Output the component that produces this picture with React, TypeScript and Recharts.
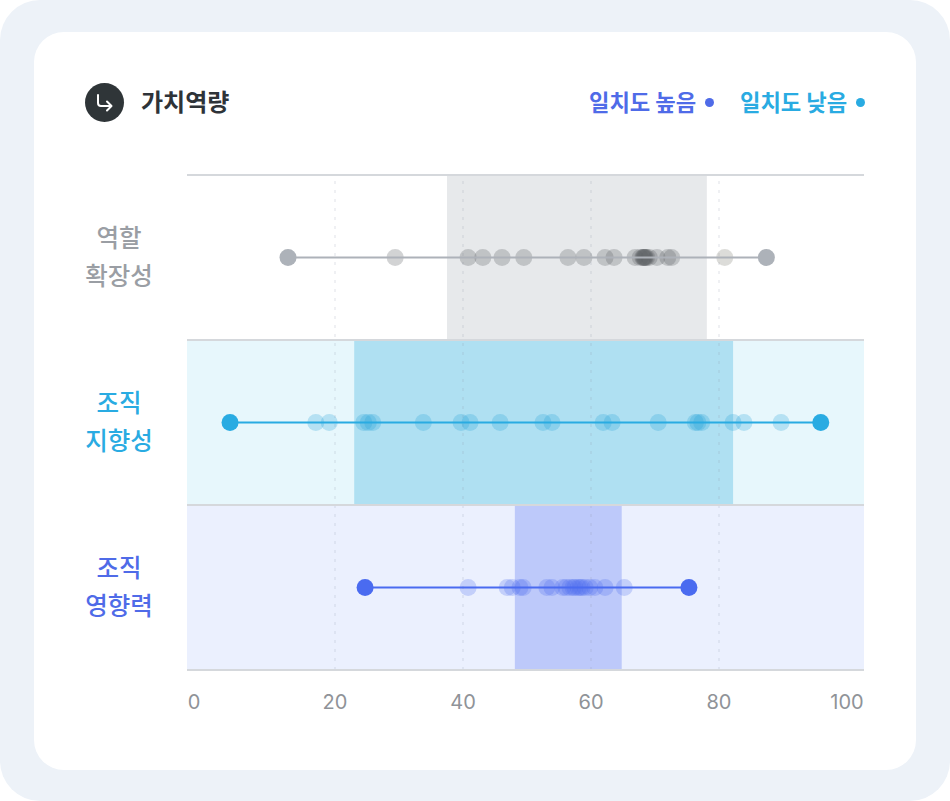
import React from 'react';
import { ScatterChart, Scatter, XAxis, YAxis, ReferenceArea, ReferenceLine } from 'recharts';

const SANS = '"Noto Sans CJK KR", Inter, sans-serif';

const GREY = '#adb2b9';
const CYAN = '#29abe2';
const BLUE = '#4a6bf0';

const xTicks = [0, 20, 40, 60, 80, 100];
const gridTicks = [20, 40, 60, 80];
const rowEdges = [0, 1, 2, 3];
const xDomain = [-3.125, 102.656];

const rowLabels = [
  ['역할', '확장성'],
  ['조직', '지향성'],
  ['조직', '영향력'],
];
const labelColors = ['#9a9ea4', CYAN, '#4f6be8'];

// [low, high] of the shaded range in each row
const rangeRole = [37.5, 78.1];
const rangeOrg = [23, 82.2];
const rangeImpact = [48.1, 64.8];

// [min, max] end points of each row
const endsRole = [12.66, 87.4];
const endsOrg = [3.6, 95.9];
const endsImpact = [24.7, 75.3];

const valuesRole = [29.4, 40.8, 43.1, 46.1, 49.5, 56.4, 58.9, 62.2, 63.6, 66.9, 67.7, 68.1, 68.2, 68.3, 68.4, 68.5, 68.7, 69.1, 70.3, 72, 72.6];
const valuesRoleHigh = [80.9];
const valuesOrg = [17.0, 19.1, 24.5, 25.2, 25.9, 33.8, 39.7, 41.1, 45.8, 52.5, 53.9, 61.9, 63.3, 70.5, 76.3, 76.7, 77.3, 82.2, 83.9, 89.7];
const valuesImpact = [40.8, 46.9, 47.7, 48.9, 49.4, 53.1, 53.9, 55.6, 56.1, 56.7, 57.2, 57.5, 58, 58.3, 58.6, 59.1, 59.8, 60.6, 62.2, 65.2];

const toPoints = (values: number[], row: number) => values.map(x => ({ x, y: row + 0.5 }));

const softDot = (fill: string, opacity: number) => (props: any) => (
  <circle cx={props.cx} cy={props.cy} r={8.5} fill={fill} fillOpacity={opacity} />
);

const endDot = (fill: string) => (props: any) => (
  <circle cx={props.cx} cy={props.cy} r={8.5} fill={fill} />
);

const XTick = (props: any) => {
  const { x, payload } = props;
  // the "0" label sits left of its real position in the reference
  const shift = payload.value === 0 ? -13 : 0;
  return (
    <text x={x + shift} y={702} textAnchor="middle" dominantBaseline="central" fontFamily="Inter, sans-serif" fontSize={20} fill="#8f9398">
      {payload.value}
    </text>
  );
};

const YTick = (props: any) => {
  const { y, payload } = props;
  const row = Math.floor(payload.value);
  return (
    <g>
      {rowLabels[row].map((line, i) => (
        <text key={i} x={119} y={y + (i === 0 ? -21 : 17)} textAnchor="middle" dominantBaseline="central" fontFamily={SANS} fontSize={24.5} fontWeight={500} fill={labelColors[row]}>
          {line}
        </text>
      ))}
    </g>
  );
};

const App = () => {
  return (
    <div style={{ position: 'absolute', left: 0, top: 0, width: 950, height: 801, background: '#ffffff', fontFamily: SANS }}>
      <div style={{ position: 'absolute', inset: 0, background: '#edf2f8', borderRadius: 40 }} />
      <div style={{ position: 'absolute', left: 34, top: 32, width: 882, height: 738, background: '#ffffff', borderRadius: 30 }} />

      {/* Header */}
      <svg width={40} height={40} style={{ position: 'absolute', left: 85, top: 83 }}>
        <circle cx={19.5} cy={19.5} r={19.5} fill="#2f3538" />
        <path d="M13 12 V20 Q13 23 16 23 H26 M22 18.5 L26.5 23 L22 27.5" fill="none" stroke="#ffffff" strokeWidth={2} strokeLinecap="round" strokeLinejoin="round" />
      </svg>
      <div style={{ position: 'absolute', left: 141, top: 84, fontSize: 24, fontWeight: 700, color: '#2e3338', lineHeight: '34px', whiteSpace: 'nowrap' }}>
        가치역량
      </div>
      <div style={{ position: 'absolute', left: 589, top: 84, fontSize: 22.2, fontWeight: 700, color: '#4f6be8', lineHeight: '34px', whiteSpace: 'nowrap' }}>
        일치도 높음
      </div>
      <div style={{ position: 'absolute', left: 705, top: 98, width: 9, height: 9, borderRadius: '50%', background: '#4f6be8' }} />
      <div style={{ position: 'absolute', left: 740, top: 84, fontSize: 22.2, fontWeight: 700, color: CYAN, lineHeight: '34px', whiteSpace: 'nowrap' }}>
        일치도 낮음
      </div>
      <div style={{ position: 'absolute', left: 856, top: 98, width: 9, height: 9, borderRadius: '50%', background: CYAN }} />

      <div style={{ position: 'absolute', left: 0, top: 0 }}>
        <ScatterChart width={950} height={801} margin={{ top: 175, right: 86, bottom: 101, left: 87 }}>
          <XAxis
            type="number"
            dataKey="x"
            domain={xDomain}
            ticks={xTicks}
            interval={0}
            axisLine={false}
            tickLine={false}
            height={30}
            tick={<XTick />}
          />
          <YAxis
            type="number"
            dataKey="y"
            domain={[0, 3]}
            reversed={true}
            ticks={[0.5, 1.5, 2.5]}
            interval={0}
            axisLine={false}
            tickLine={false}
            width={100}
            tick={<YTick />}
          />

          {/* Row backgrounds */}
          <ReferenceArea x1={xDomain[0]} x2={xDomain[1]} y1={1} y2={2} fill="#e7f7fc" fillOpacity={1} stroke="none" />
          <ReferenceArea x1={xDomain[0]} x2={xDomain[1]} y1={2} y2={3} fill="#ebf0fe" fillOpacity={1} stroke="none" />

          {/* Shaded ranges */}
          <ReferenceArea x1={rangeRole[0]} x2={rangeRole[1]} y1={0} y2={1} fill="#e7e9eb" fillOpacity={1} stroke="none" />
          <ReferenceArea x1={rangeOrg[0]} x2={rangeOrg[1]} y1={1} y2={2} fill="#afe0f2" fillOpacity={1} stroke="none" />
          <ReferenceArea x1={rangeImpact[0]} x2={rangeImpact[1]} y1={2} y2={3} fill="#bdc9fa" fillOpacity={1} stroke="none" />

          {gridTicks.map(t => (
            <ReferenceLine key={t} x={t} stroke="#8f98a8" strokeOpacity={0.14} strokeWidth={2} strokeDasharray="3 6" />
          ))}
          {rowEdges.map(r => (
            <ReferenceLine key={r} y={r} stroke="#d5d8dc" strokeWidth={2} />
          ))}

          {/* Individual responses */}
          <Scatter data={toPoints(valuesRole, 0)} shape={softDot('#5f6265', 0.28)} isAnimationActive={false} />
          <Scatter data={toPoints(valuesRoleHigh, 0)} shape={softDot('#8a8a80', 0.3)} isAnimationActive={false} />
          <Scatter data={toPoints(valuesOrg, 1)} shape={softDot('#1f9fd8', 0.25)} isAnimationActive={false} />
          <Scatter data={toPoints(valuesImpact, 2)} shape={softDot('#4a6bf0', 0.25)} isAnimationActive={false} />

          {/* Min-max lines */}
          <Scatter data={toPoints(endsRole, 0)} line={{ stroke: GREY, strokeWidth: 2 }} shape={endDot(GREY)} isAnimationActive={false} />
          <Scatter data={toPoints(endsOrg, 1)} line={{ stroke: CYAN, strokeWidth: 2 }} shape={endDot(CYAN)} isAnimationActive={false} />
          <Scatter data={toPoints(endsImpact, 2)} line={{ stroke: BLUE, strokeWidth: 2 }} shape={endDot(BLUE)} isAnimationActive={false} />
        </ScatterChart>
      </div>
    </div>
  );
};

export default App;
